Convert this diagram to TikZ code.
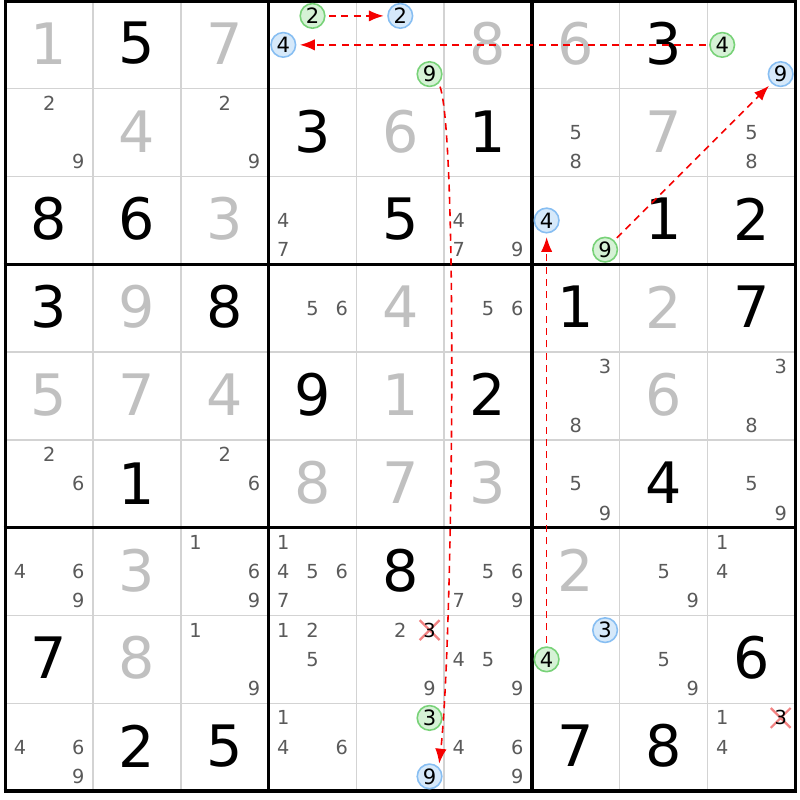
\documentclass[tikz,border=0pt]{standalone}
\usepackage{fontspec}
\setmainfont{DejaVu Sans}
\usetikzlibrary{shapes,arrows.meta,positioning}
\definecolor{solvedgray}{RGB}{192,192,192}
\definecolor{candgray}{RGB}{90,90,90}
\definecolor{thingrid}{RGB}{211,211,211}
\definecolor{greenfill}{RGB}{214,242,214}
\definecolor{greenring}{RGB}{120,210,120}
\definecolor{bluefill}{RGB}{214,233,250}
\definecolor{bluering}{RGB}{135,190,242}
\definecolor{linkred}{RGB}{245,0,0}
\definecolor{crosspink}{RGB}{242,130,130}
\newcommand{\bigdigit}{\fontsize{32.5}{32.5}\selectfont}
\newcommand{\smalldigit}{\fontsize{11}{11}\selectfont}
\newcommand{\markdigit}{\fontsize{12}{12}\selectfont}

\tikzset{
  given/.style={inner sep=0pt, font=\bigdigit, text=black},
  solved/.style={inner sep=0pt, font=\bigdigit, text=solvedgray},
  cand/.style={inner sep=0pt, font=\smalldigit, text=candgray},
  greenmark/.style={circle, inner sep=0pt, minimum size=14pt, line width=0.9pt, draw=greenring, fill=greenfill, font=\markdigit, text=black},
  bluemark/.style={circle, inner sep=0pt, minimum size=14pt, line width=0.9pt, draw=bluering, fill=bluefill, font=\markdigit, text=black},
  crossmark/.style={cross out, draw=crosspink, line width=1.3pt, inner sep=0pt, minimum size=10pt},
  link/.style={draw=linkred, line width=0.9pt, dash pattern=on 4pt off 3pt, -{Latex[length=8.5pt,width=6.5pt,fill=linkred]}, shorten <=2pt, shorten >=2pt},
}

\begin{document}
\begin{tikzpicture}[x=1.755cm,y=-1.755cm]
    \useasboundingbox[fill=white] (-0.060,-0.011) rectangle (9.053,9.102);

    % Grid
    \foreach \i in {1,2,4,5,7,8} {
        \draw[thingrid, line width=0.8pt] (\i,0) -- (\i,9);
        \draw[thingrid, line width=0.8pt] (0,\i) -- (9,\i);
    }
    \foreach \i in {0,3,6,9} {
        \draw[black, line width=1.8pt] (\i,-0.02) -- (\i,9.02);
        \draw[black, line width=1.8pt] (-0.02,\i) -- (9.02,\i);
    }

    % Row 1
    \node[solved] (r1c1) at (0.5,0.485) {1};
    \node[given]  (r1c2) at (1.5,0.485) {5};
    \node[solved] (r1c3) at (2.5,0.485) {7};
    \node[solved] (r1c6) at (5.5,0.485) {8};
    \node[solved] (r1c7) at (6.5,0.485) {6};
    \node[given]  (r1c8) at (7.5,0.485) {3};
    \node[greenmark] (r1c4n2) at (3.5,0.17) {2};
    \node[bluemark]  (r1c4n4) at (3.167,0.5) {4};
    \node[bluemark]  (r1c5n2) at (4.5,0.17) {2};
    \node[greenmark] (r1c5n9) at (4.833,0.833) {9};
    \node[greenmark] (r1c9n4) at (8.167,0.5) {4};
    \node[bluemark]  (r1c9n9) at (8.833,0.833) {9};

    % Row 2
    \node[solved] (r2c2) at (1.5,1.485) {4};
    \node[given]  (r2c4) at (3.5,1.485) {3};
    \node[solved] (r2c5) at (4.5,1.485) {6};
    \node[given]  (r2c6) at (5.5,1.485) {1};
    \node[solved] (r2c8) at (7.5,1.485) {7};
    \node[cand] (r2c1n2) at (0.5,1.167) {2};
    \node[cand] (r2c1n9) at (0.833,1.833) {9};
    \node[cand] (r2c3n2) at (2.5,1.167) {2};
    \node[cand] (r2c3n9) at (2.833,1.833) {9};
    \node[cand] (r2c7n5) at (6.5,1.5) {5};
    \node[cand] (r2c7n8) at (6.5,1.833) {8};
    \node[cand] (r2c9n5) at (8.5,1.5) {5};
    \node[cand] (r2c9n8) at (8.5,1.833) {8};

    % Row 3
    \node[given]  (r3c1) at (0.5,2.485) {8};
    \node[given]  (r3c2) at (1.5,2.485) {6};
    \node[solved] (r3c3) at (2.5,2.485) {3};
    \node[given]  (r3c5) at (4.5,2.485) {5};
    \node[given]  (r3c8) at (7.5,2.485) {1};
    \node[given]  (r3c9) at (8.5,2.485) {2};
    \node[cand] (r3c4n4) at (3.167,2.5) {4};
    \node[cand] (r3c4n7) at (3.167,2.833) {7};
    \node[cand] (r3c6n4) at (5.167,2.5) {4};
    \node[cand] (r3c6n7) at (5.167,2.833) {7};
    \node[cand] (r3c6n9) at (5.833,2.833) {9};
    \node[bluemark]  (r3c7n4) at (6.167,2.5) {4};
    \node[greenmark] (r3c7n9) at (6.833,2.833) {9};

    % Row 4
    \node[given]  (r4c1) at (0.5,3.485) {3};
    \node[solved] (r4c2) at (1.5,3.485) {9};
    \node[given]  (r4c3) at (2.5,3.485) {8};
    \node[solved] (r4c5) at (4.5,3.485) {4};
    \node[given]  (r4c7) at (6.5,3.485) {1};
    \node[solved] (r4c8) at (7.5,3.485) {2};
    \node[given]  (r4c9) at (8.5,3.485) {7};
    \node[cand] (r4c4n5) at (3.5,3.5) {5};
    \node[cand] (r4c4n6) at (3.833,3.5) {6};
    \node[cand] (r4c6n5) at (5.5,3.5) {5};
    \node[cand] (r4c6n6) at (5.833,3.5) {6};

    % Row 5
    \node[solved] (r5c1) at (0.5,4.485) {5};
    \node[solved] (r5c2) at (1.5,4.485) {7};
    \node[solved] (r5c3) at (2.5,4.485) {4};
    \node[given]  (r5c4) at (3.5,4.485) {9};
    \node[solved] (r5c5) at (4.5,4.485) {1};
    \node[given]  (r5c6) at (5.5,4.485) {2};
    \node[solved] (r5c8) at (7.5,4.485) {6};
    \node[cand] (r5c7n3) at (6.833,4.167) {3};
    \node[cand] (r5c7n8) at (6.5,4.833) {8};
    \node[cand] (r5c9n3) at (8.833,4.167) {3};
    \node[cand] (r5c9n8) at (8.5,4.833) {8};

    % Row 6
    \node[given]  (r6c2) at (1.5,5.5) {1};
    \node[solved] (r6c4) at (3.5,5.485) {8};
    \node[solved] (r6c5) at (4.5,5.485) {7};
    \node[solved] (r6c6) at (5.5,5.485) {3};
    \node[given]  (r6c8) at (7.5,5.485) {4};
    \node[cand] (r6c1n2) at (0.5,5.167) {2};
    \node[cand] (r6c1n6) at (0.833,5.5) {6};
    \node[cand] (r6c3n2) at (2.5,5.167) {2};
    \node[cand] (r6c3n6) at (2.833,5.5) {6};
    \node[cand] (r6c7n5) at (6.5,5.5) {5};
    \node[cand] (r6c7n9) at (6.833,5.833) {9};
    \node[cand] (r6c9n5) at (8.5,5.5) {5};
    \node[cand] (r6c9n9) at (8.833,5.833) {9};

    % Row 7
    \node[solved] (r7c2) at (1.5,6.485) {3};
    \node[given]  (r7c5) at (4.5,6.485) {8};
    \node[solved] (r7c7) at (6.5,6.485) {2};
    \node[cand] (r7c1n4) at (0.167,6.5) {4};
    \node[cand] (r7c1n6) at (0.833,6.5) {6};
    \node[cand] (r7c1n9) at (0.833,6.833) {9};
    \node[cand] (r7c3n1) at (2.167,6.167) {1};
    \node[cand] (r7c3n6) at (2.833,6.5) {6};
    \node[cand] (r7c3n9) at (2.833,6.833) {9};
    \node[cand] (r7c4n1) at (3.167,6.167) {1};
    \node[cand] (r7c4n4) at (3.167,6.5) {4};
    \node[cand] (r7c4n5) at (3.5,6.5) {5};
    \node[cand] (r7c4n6) at (3.833,6.5) {6};
    \node[cand] (r7c4n7) at (3.167,6.833) {7};
    \node[cand] (r7c6n5) at (5.5,6.5) {5};
    \node[cand] (r7c6n6) at (5.833,6.5) {6};
    \node[cand] (r7c6n7) at (5.167,6.833) {7};
    \node[cand] (r7c6n9) at (5.833,6.833) {9};
    \node[cand] (r7c8n5) at (7.5,6.5) {5};
    \node[cand] (r7c8n9) at (7.833,6.833) {9};
    \node[cand] (r7c9n1) at (8.167,6.167) {1};
    \node[cand] (r7c9n4) at (8.167,6.5) {4};

    % Row 8
    \node[given]  (r8c1) at (0.5,7.485) {7};
    \node[solved] (r8c2) at (1.5,7.485) {8};
    \node[given]  (r8c9) at (8.5,7.485) {6};
    \node[cand] (r8c3n1) at (2.167,7.167) {1};
    \node[cand] (r8c3n9) at (2.833,7.833) {9};
    \node[cand] (r8c4n1) at (3.167,7.167) {1};
    \node[cand] (r8c4n2) at (3.5,7.167) {2};
    \node[cand] (r8c4n5) at (3.5,7.5) {5};
    \node[cand] (r8c5n2) at (4.5,7.167) {2};
    \node[crossmark] (r8c5x) at (4.833,7.167) {};
    \node[cand, text=black] (r8c5n3) at (4.833,7.167) {3};
    \node[cand] (r8c5n9) at (4.833,7.833) {9};
    \node[cand] (r8c6n4) at (5.167,7.5) {4};
    \node[cand] (r8c6n5) at (5.5,7.5) {5};
    \node[cand] (r8c6n9) at (5.833,7.833) {9};
    \node[bluemark]  (r8c7n3) at (6.833,7.167) {3};
    \node[greenmark] (r8c7n4) at (6.167,7.5) {4};
    \node[cand] (r8c8n5) at (7.5,7.5) {5};
    \node[cand] (r8c8n9) at (7.833,7.833) {9};

    % Row 9
    \node[given] (r9c2) at (1.5,8.485) {2};
    \node[given] (r9c3) at (2.5,8.485) {5};
    \node[given] (r9c7) at (6.5,8.485) {7};
    \node[given] (r9c8) at (7.5,8.485) {8};
    \node[cand] (r9c1n4) at (0.167,8.5) {4};
    \node[cand] (r9c1n6) at (0.833,8.5) {6};
    \node[cand] (r9c1n9) at (0.833,8.833) {9};
    \node[cand] (r9c4n1) at (3.167,8.167) {1};
    \node[cand] (r9c4n4) at (3.167,8.5) {4};
    \node[cand] (r9c4n6) at (3.833,8.5) {6};
    \node[greenmark] (r9c5n3) at (4.833,8.167) {3};
    \node[bluemark]  (r9c5n9) at (4.833,8.833) {9};
    \node[cand] (r9c6n4) at (5.167,8.5) {4};
    \node[cand] (r9c6n6) at (5.833,8.5) {6};
    \node[cand] (r9c6n9) at (5.833,8.833) {9};
    \node[cand] (r9c9n1) at (8.167,8.167) {1};
    \node[cand] (r9c9n4) at (8.167,8.5) {4};
    \node[crossmark] (r9c9x) at (8.833,8.167) {};
    \node[cand, text=black] (r9c9n3) at (8.833,8.167) {3};

    % Chain links
    \draw[link] (r1c4n2) -- (r1c5n2);
    \draw[link] (r1c9n4) -- (r1c4n4);
    \draw[link] (r1c5n9.-45) .. controls +(0.22,0.6) and +(0.16,-1.4) .. (r9c5n9.45);
    \draw[link] (r3c7n9) -- (r1c9n9);
    \draw[link] (r8c7n4) -- (r3c7n4);
\end{tikzpicture}
\end{document}
